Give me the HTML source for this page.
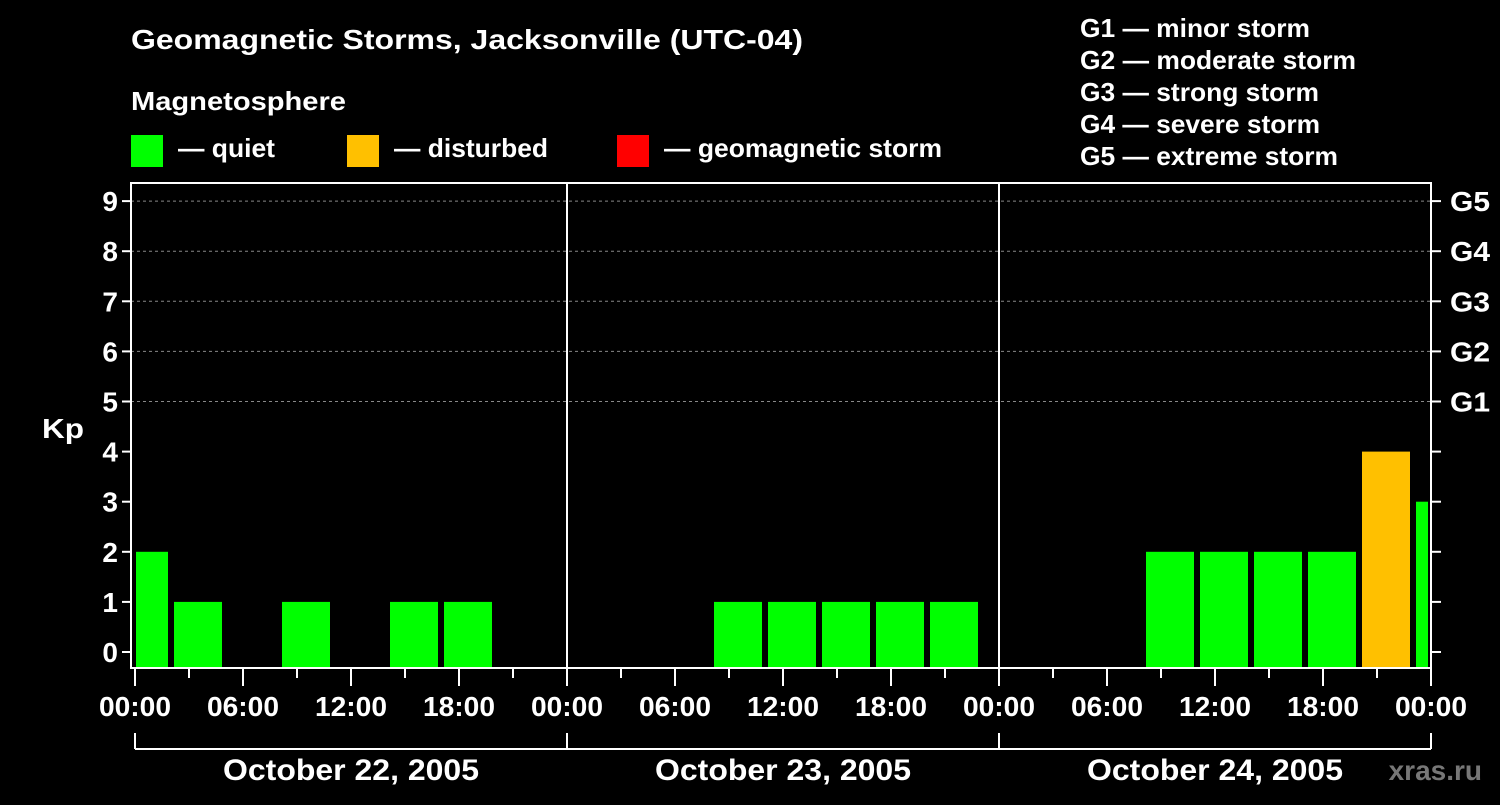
<!DOCTYPE html>
<html><head><meta charset="utf-8"><style>
body{margin:0;background:#000;width:1500px;height:800px;overflow:hidden;font-family:"Liberation Sans",sans-serif}
svg text{font-family:"Liberation Sans",sans-serif;font-weight:bold;fill:#fff}
</style></head><body>
<svg id="c" width="1500" height="800" xmlns="http://www.w3.org/2000/svg">
<text x="131" y="49" font-size="28" textLength="672" lengthAdjust="spacingAndGlyphs">Geomagnetic Storms, Jacksonville (UTC-04)</text>
<text x="131" y="110" font-size="26" textLength="215" lengthAdjust="spacingAndGlyphs">Magnetosphere</text>
<rect x="131" y="135" width="32" height="32" fill="#00ff00"/>
<text x="178" y="157" font-size="26" textLength="97" lengthAdjust="spacingAndGlyphs">— quiet</text>
<rect x="347" y="135" width="32" height="32" fill="#ffc000"/>
<text x="394" y="157" font-size="26" textLength="154" lengthAdjust="spacingAndGlyphs">— disturbed</text>
<rect x="617" y="135" width="32" height="32" fill="#ff0000"/>
<text x="664" y="157" font-size="26" textLength="278" lengthAdjust="spacingAndGlyphs">— geomagnetic storm</text>
<g font-size="26">
<text x="1080" y="37" textLength="230" lengthAdjust="spacingAndGlyphs">G1 — minor storm</text>
<text x="1080" y="69" textLength="276" lengthAdjust="spacingAndGlyphs">G2 — moderate storm</text>
<text x="1080" y="101" textLength="239" lengthAdjust="spacingAndGlyphs">G3 — strong storm</text>
<text x="1080" y="133" textLength="240" lengthAdjust="spacingAndGlyphs">G4 — severe storm</text>
<text x="1080" y="165" textLength="258" lengthAdjust="spacingAndGlyphs">G5 — extreme storm</text>
</g>
<text x="42" y="438" font-size="28" textLength="42" lengthAdjust="spacingAndGlyphs">Kp</text>
<text x="1482" y="780" font-size="28" style="fill:#777" text-anchor="end">xras.ru</text>
<g id="g"></g>
</svg>
<script>
const kpValues=[2,1,0,1,0,1,1,0,0,0,0,1,1,1,1,1,0,0,0,2,2,2,2,4,3];
const startHours=[-1,2,5,8,11,14,17,20,23,26,29,32,35,38,41,44,47,50,53,56,59,62,65,68,71];
const dayLabels=["October 22, 2005","October 23, 2005","October 24, 2005"];
const gLabels=["G1","G2","G3","G4","G5"];
const L=131,R=1431,T=183,B=668,X0=135,PXH=18;
const x=h=>X0+h*PXH, y=v=>652-v*50.1;
const NS="http://www.w3.org/2000/svg", g=document.getElementById('g');
function mk(t,a){const e=document.createElementNS(NS,t);for(const k in a)e.setAttribute(k,a[k]);g.appendChild(e);return e;}
for(let v=5;v<=9;v++){const e=mk('line',{x1:L,x2:R,y1:y(v),y2:y(v),stroke:'#888','stroke-dasharray':'3,3'});

}
kpValues.forEach((v,i)=>{if(v<=0)return;
let x1=Math.max(x(startHours[i])+3,X0+1),x2=Math.min(x(startHours[i]+3)-3,R-3);
const col=v>=5?'#ff0000':v>=4?'#ffc000':'#00ff00';
const r=mk('rect',{x:x1,y:y(v),width:x2-x1,height:B-y(v),fill:col});

});
for(let d=1;d<3;d++){const e=mk('line',{x1:x(d*24),x2:x(d*24),y1:T,y2:B,stroke:'#fff','stroke-width':2});

}
const fr=mk('rect',{x:L,y:T,width:R-L,height:B-T,fill:'none',stroke:'#fff','stroke-width':2});


for(let v=0;v<=9;v++){
mk('line',{x1:L-9,x2:L,y1:y(v),y2:y(v),stroke:'#fff','stroke-width':2});
mk('line',{x1:R,x2:R+10,y1:y(v),y2:y(v),stroke:'#fff','stroke-width':2});
const t=mk('text',{x:118,y:y(v)+10,'font-size':28,'text-anchor':'end'});t.textContent=v;

}
gLabels.forEach((s,i)=>{const t=mk('text',{x:1450,y:y(5+i)+10,'font-size':28,textLength:40,lengthAdjust:'spacingAndGlyphs'});t.textContent=s;

});
for(let h=0;h<=72;h+=3){const maj=h%6==0;
mk('line',{x1:x(h),x2:x(h),y1:B,y2:B+(maj?18:10),stroke:'#fff','stroke-width':2});
if(maj){const t=mk('text',{x:x(h),y:716,'font-size':28,'text-anchor':'middle',textLength:72,lengthAdjust:'spacingAndGlyphs'});
t.textContent=String(h%24).padStart(2,'0')+':00';

}}
mk('line',{x1:X0,x2:R,y1:749,y2:749,stroke:'#fff','stroke-width':2});
for(let d=0;d<=3;d++)mk('line',{x1:x(d*24),x2:x(d*24),y1:733,y2:749,stroke:'#fff','stroke-width':2});
dayLabels.forEach((s,i)=>{const t=mk('text',{x:x(i*24+12),y:780,'font-size':30,'text-anchor':'middle',textLength:256,lengthAdjust:'spacingAndGlyphs'});t.textContent=s;

});
</script>
</body></html>
